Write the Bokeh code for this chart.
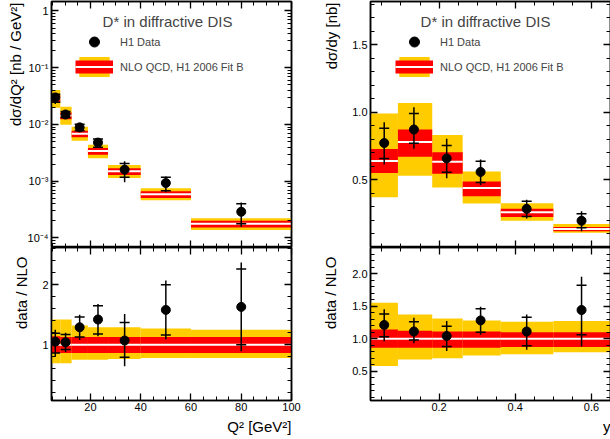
import numpy as np
from bokeh.plotting import figure
from bokeh.models import (Range1d, FixedTicker, LinearAxis, LogAxis, Label, Title,
                          Legend, LegendItem, ColumnDataSource, CustomJSTickFormatter)
from bokeh.layouts import row, column
from bokeh.embed import file_html
from bokeh.resources import INLINE

# ---------------- data: d sigma / d Q^2 ----------------
Q2_EDGES = [4.5, 8.0, 12.5, 19.0, 27.0, 40.0, 60.0, 100.0]
Q2_CENTRES = [6.0, 10.1, 15.7, 23.0, 33.6, 50.0, 80.0]
DSIG_DQ2 = [0.030, 0.015, 0.0089, 0.0048, 0.0016, 0.00093, 0.00029]
NLO_DQ2 = [0.0286, 0.0144, 0.0069, 0.0034, 0.0015, 0.00059, 0.000178]
RATIO_Q2 = [1.05, 1.04, 1.29, 1.42, 1.07, 1.58, 1.63]
RATIO_Q2_STAT_HI = [1.19, 1.17, 1.46, 1.65, 1.37, 2.00, 2.26]
RATIO_Q2_STAT_LO = [0.86, 0.92, 1.13, 1.18, 0.79, 1.16, 1.00]
RATIO_Q2_TOT_HI = [1.25, 1.20, 1.50, 1.68, 1.51, 2.07, 2.37]
RATIO_Q2_TOT_LO = [0.80, 0.88, 1.08, 1.14, 0.64, 1.09, 0.89]
BAND_Q2_TOT_HI = [1.42, 1.42, 1.32, 1.29, 1.29, 1.27, 1.25]
BAND_Q2_TOT_LO = [0.69, 0.69, 0.75, 0.75, 0.76, 0.78, 0.78]
BAND_Q2_IN_HI = [1.14, 1.13, 1.13, 1.13, 1.13, 1.13, 1.13]
BAND_Q2_IN_LO = [0.86, 0.86, 0.86, 0.86, 0.86, 0.86, 0.86]

# ---------------- data: d sigma / d y ----------------
Y_EDGES = [0.02, 0.092, 0.182, 0.262, 0.362, 0.50, 0.65]
Y_CENTRES = [0.056, 0.134, 0.220, 0.309, 0.430, 0.574]
DSIG_DY = [0.773, 0.873, 0.659, 0.559, 0.286, 0.198]
NLO_DY = [0.64, 0.78, 0.635, 0.44, 0.26, 0.1375]
RATIO_Y = [1.21, 1.11, 1.04, 1.28, 1.11, 1.44]
RATIO_Y_STAT_HI = [1.38, 1.26, 1.19, 1.46, 1.33, 1.82]
RATIO_Y_STAT_LO = [1.03, 0.98, 0.88, 1.10, 0.89, 1.06]
RATIO_Y_TOT_HI = [1.45, 1.32, 1.27, 1.49, 1.37, 1.95]
RATIO_Y_TOT_LO = [0.96, 0.93, 0.81, 1.06, 0.83, 0.88]
BAND_Y_TOT_HI = [1.55, 1.37, 1.31, 1.28, 1.26, 1.27]
BAND_Y_TOT_LO = [0.58, 0.68, 0.70, 0.74, 0.76, 0.79]
BAND_Y_IN_HI = [1.14, 1.12, 1.11, 1.11, 1.10, 1.10]
BAND_Y_IN_LO = [0.86, 0.86, 0.86, 0.86, 0.87, 0.87]

# ---------------- ticks and labels ----------------
Q2_TICKS = [20, 40, 60, 80, 100]
Q2_MINOR = list(range(5, 101, 5))
Y_TICKS = [0.2, 0.4, 0.6]
Y_MINOR = [round(0.05 * i, 2) for i in range(1, 14)]
LOG_TICKS = [1e-4, 1e-3, 1e-2, 1e-1, 1.0]
LOG_TICK_LABELS = ["10⁻⁴", "10⁻³", "10⁻²", "10⁻¹", "1"]
LOG_MINOR = [m * 10.0 ** e for e in range(-5, 1) for m in range(1, 10)]
RL_TICKS = [1, 2]
RL_MINOR = [round(0.2 * i, 1) for i in range(0, 14)]
RR_TICKS = [0.5, 1.0, 1.5, 2.0]
RR_TICK_LABELS = ["0.5", "1.0", "1.5", "2.0"]
RR_MINOR = [round(0.1 * i, 1) for i in range(0, 25)]
DY_TICKS = [0.5, 1.0, 1.5]
DY_TICK_LABELS = ["0.5", "1.0", "1.5"]
DY_MINOR = [round(0.1 * i, 1) for i in range(0, 19)]

TITLE = "D* in diffractive DIS"
LEG_DATA = "H1 Data"
LEG_NLO = "NLO QCD, H1 2006 Fit B"
YLAB_Q2 = "dσ/dQ² [nb / GeV²]"
YLAB_Y = "dσ/dy [nb]"
YLAB_RATIO = "data / NLO"
XLAB_Q2 = "Q² [GeV²]"
XLAB_Y = "y"

YELLOW = "#FFCC00"
RED = "#FF0000"
FONT = "Liberation Sans"

FW = 240
FH_TOP, FH_BOT = 246, 153


def cfg_axis(ax, ticks, minor, labels=True, overrides=None, standoff=3):
    ax.ticker = FixedTicker(ticks=ticks, minor_ticks=minor)
    ax.axis_line_color = "black"
    ax.axis_line_width = 1.5
    ax.major_tick_in = 7
    ax.major_tick_out = 0
    ax.minor_tick_in = 4
    ax.minor_tick_out = 0
    ax.major_tick_line_color = "black"
    ax.major_tick_line_width = 1.3
    ax.minor_tick_line_color = "black"
    ax.minor_tick_line_width = 1
    ax.major_label_text_font = FONT
    ax.major_label_text_color = "black"
    if labels:
        ax.major_label_text_font_size = "11px"
        ax.major_label_standoff = standoff
        if overrides:
            ax.major_label_overrides = overrides
    else:
        ax.formatter = CustomJSTickFormatter(code="return ''")
        ax.major_label_text_font_size = "1px"
        ax.major_label_standoff = 0


def make_fig(xr, yr, ylog, fh, bl, br, bt, bb):
    p = figure(x_range=xr, y_range=yr, y_axis_type="log" if ylog else "linear",
               frame_width=FW, frame_height=fh,
               min_border_left=bl, min_border_right=br,
               min_border_top=bt, min_border_bottom=bb,
               output_backend="svg", toolbar_location=None,
               background_fill_color="white", border_fill_color="white")
    p.xgrid.visible = False
    p.ygrid.visible = False
    p.outline_line_color = "black"
    p.outline_line_width = 1.5
    return p


def frame_axes(p, xt, xm, yt, ym, xlabels, ylog, yover=None):
    for ax in p.below:
        cfg_axis(ax, xt, xm, labels=xlabels, standoff=2)
    for ax in p.left:
        cfg_axis(ax, yt, ym, labels=True, overrides=yover, standoff=3)
    top = LinearAxis()
    cfg_axis(top, xt, xm, labels=False)
    p.add_layout(top, "above")
    right = LogAxis() if ylog else LinearAxis()
    cfg_axis(right, yt, ym, labels=False)
    p.add_layout(right, "right")


def title(p, text, side, standoff, offset):
    p.add_layout(Title(text=text, align="right", text_font=FONT, text_font_size="15px",
                       text_font_style="normal", text_color="black",
                       standoff=standoff, offset=offset), side)


def draw_panel(p, edges, centres, vals, nlo, r, shi, slo, thi, tlo, bthi, btlo, bihi, bilo,
               is_ratio, legend_loc=None, title_x=116):
    left = edges[:-1]
    right = edges[1:]
    nlo = np.array(nlo)
    vals = np.array(vals)
    r = np.array(r)
    if is_ratio:
        centre = np.ones_like(nlo)
        pts = r
        scale = np.ones_like(r)
    else:
        centre = nlo
        pts = vals
        scale = vals / r
    src = ColumnDataSource(dict(
        left=left, right=right, x=centres, centre=centre,
        ytop=centre * np.array(bthi), ybot=centre * np.array(btlo),
        rtop=centre * np.array(bihi), rbot=centre * np.array(bilo),
        pts=pts, shi=scale * np.array(shi), slo=scale * np.array(slo),
        thi=scale * np.array(thi), tlo=scale * np.array(tlo)))
    r_yel = p.quad(left="left", right="right", top="ytop", bottom="ybot", source=src,
                   fill_color=YELLOW, line_color=None)
    p.quad(left="left", right="right", top="rtop", bottom="rbot", source=src,
           fill_color=RED, line_color=None)
    r_white = p.segment(x0="left", x1="right", y0="centre", y1="centre", source=src,
                        line_color="white", line_width=2)
    p.segment(x0="x", x1="x", y0="tlo", y1="thi", source=src, line_color="black",
              line_width=1.5)
    p.scatter(x="x", y="shi", source=src, marker="dash", size=10, line_color="black",
              line_width=1.5)
    p.scatter(x="x", y="slo", source=src, marker="dash", size=10, line_color="black",
              line_width=1.5)
    r_pts = p.scatter(x="x", y="pts", source=src, marker="circle", size=9,
                      fill_color="black", line_color="black")
    if legend_loc is not None:
        r_red_leg = p.line(x=[centres[0], centres[0]], y=[centre[0], centre[0]],
                           line_color=RED, line_width=13)
        leg = Legend(items=[LegendItem(label=LEG_DATA, renderers=[r_pts]),
                            LegendItem(label=LEG_NLO, renderers=[r_yel, r_red_leg, r_white])],
                     location=legend_loc, padding=0, margin=0, spacing=0,
                     glyph_width=38, glyph_height=25, label_height=25,
                     label_standoff=7, label_text_font=FONT, label_text_font_size="11px",
                     border_line_color=None, background_fill_alpha=0)
        p.add_layout(leg)
        p.add_layout(Label(x=title_x, y=FH_TOP - 20, x_units="screen", y_units="screen",
                           text=TITLE, text_font=FONT, text_font_size="15px",
                           text_align="center", text_baseline="middle"))


# ---------------- left column ----------------
pLt = make_fig(Range1d(4.5, 100), Range1d(6.8e-5, 1.47), True, FH_TOP, 49, 10, 1, 0)
frame_axes(pLt, Q2_TICKS, Q2_MINOR, LOG_TICKS, LOG_MINOR, False, True,
           dict(zip(LOG_TICKS, LOG_TICK_LABELS)))
draw_panel(pLt, Q2_EDGES, Q2_CENTRES, DSIG_DQ2, NLO_DQ2, RATIO_Q2,
           RATIO_Q2_STAT_HI, RATIO_Q2_STAT_LO, RATIO_Q2_TOT_HI, RATIO_Q2_TOT_LO,
           BAND_Q2_TOT_HI, BAND_Q2_TOT_LO, BAND_Q2_IN_HI, BAND_Q2_IN_LO, False,
           legend_loc=(24, 168), title_x=116)
title(pLt, YLAB_Q2, "left", 1, 1)

pLb = make_fig(Range1d(4.5, 100), Range1d(0.07, 2.62), False, FH_BOT, 49, 10, 0, 38)
frame_axes(pLb, Q2_TICKS, Q2_MINOR, RL_TICKS, RL_MINOR, True, False)
draw_panel(pLb, Q2_EDGES, Q2_CENTRES, DSIG_DQ2, NLO_DQ2, RATIO_Q2,
           RATIO_Q2_STAT_HI, RATIO_Q2_STAT_LO, RATIO_Q2_TOT_HI, RATIO_Q2_TOT_LO,
           BAND_Q2_TOT_HI, BAND_Q2_TOT_LO, BAND_Q2_IN_HI, BAND_Q2_IN_LO, True)
title(pLb, YLAB_RATIO, "left", 20, 9)
title(pLb, XLAB_Q2, "below", 4, 0)

# ---------------- right column ----------------
pRt = make_fig(Range1d(0.02, 0.65), Range1d(0.0, 1.82), False, FH_TOP, 69, 1, 1, 0)
frame_axes(pRt, Y_TICKS, Y_MINOR, DY_TICKS, DY_MINOR, False, False,
           dict(zip(DY_TICKS, DY_TICK_LABELS)))
draw_panel(pRt, Y_EDGES, Y_CENTRES, DSIG_DY, NLO_DY, RATIO_Y,
           RATIO_Y_STAT_HI, RATIO_Y_STAT_LO, RATIO_Y_TOT_HI, RATIO_Y_TOT_LO,
           BAND_Y_TOT_HI, BAND_Y_TOT_LO, BAND_Y_IN_HI, BAND_Y_IN_LO, False,
           legend_loc=(25, 168), title_x=115)
title(pRt, YLAB_Y, "left", 19, 1)

pRb = make_fig(Range1d(0.02, 0.65), Range1d(0.05, 2.4), False, FH_BOT, 69, 1, 0, 38)
frame_axes(pRb, Y_TICKS, Y_MINOR, RR_TICKS, RR_MINOR, True, False,
           dict(zip(RR_TICKS, RR_TICK_LABELS)))
draw_panel(pRb, Y_EDGES, Y_CENTRES, DSIG_DY, NLO_DY, RATIO_Y,
           RATIO_Y_STAT_HI, RATIO_Y_STAT_LO, RATIO_Y_TOT_HI, RATIO_Y_TOT_LO,
           BAND_Y_TOT_HI, BAND_Y_TOT_LO, BAND_Y_IN_HI, BAND_Y_IN_LO, True)
title(pRb, YLAB_RATIO, "left", 21, 9)
title(pRb, XLAB_Y, "below", 4, 0)

layout = row(column(pLt, pLb), column(pRt, pRb))
open("out.html", "w").write(file_html(layout, INLINE))
